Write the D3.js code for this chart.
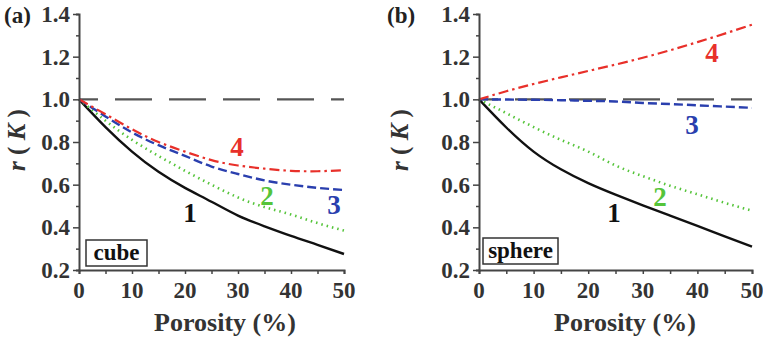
<!DOCTYPE html>
<html>
<head>
<meta charset="utf-8">
<script src="https://cdn.jsdelivr.net/npm/d3@7"></script>
<style>
  body { margin: 0; background: #fff; }
  svg text { font-family: "Liberation Serif", "Times New Roman", serif; font-weight: bold; }
</style>
</head>
<body>
<svg id="chart" width="763" height="340"></svg>
<script>
// porosity (%) sample points shared by every curve
const porosity = [0, 5, 10, 15, 20, 25, 30, 35, 40, 45, 50];

// (a) cube
const cube1 = [1.0, 0.87, 0.755, 0.66, 0.585, 0.52, 0.455, 0.405, 0.36, 0.318, 0.275];
const cube2 = [1.0, 0.90, 0.81, 0.735, 0.665, 0.60, 0.54, 0.495, 0.46, 0.42, 0.385];
const cube3 = [1.0, 0.92, 0.845, 0.785, 0.735, 0.685, 0.65, 0.62, 0.60, 0.585, 0.575];
const cube4 = [1.0, 0.93, 0.86, 0.80, 0.755, 0.715, 0.69, 0.675, 0.665, 0.663, 0.668];

// (b) sphere
const sphere1 = [1.0, 0.868, 0.755, 0.672, 0.607, 0.553, 0.503, 0.455, 0.407, 0.358, 0.31];
const sphere2 = [1.0, 0.935, 0.87, 0.81, 0.755, 0.69, 0.64, 0.595, 0.555, 0.515, 0.478];
const sphere3 = [1.0, 0.999, 0.998, 0.996, 0.993, 0.99, 0.983, 0.978, 0.972, 0.966, 0.96];
const sphere4 = [1.0, 1.038, 1.072, 1.103, 1.133, 1.163, 1.195, 1.23, 1.268, 1.308, 1.35];

const xTicks = [0, 10, 20, 30, 40, 50];
const yTicks = [0.2, 0.4, 0.6, 0.8, 1.0, 1.2, 1.4];
const seriesNames = ["1", "2", "3", "4"];

const styles = [
  { color: "#111111", dash: null, width: 2.4 },
  { color: "#55c43a", dash: "1.5,4", width: 2.6 },
  { color: "#2a3fae", dash: "9,4", width: 2.4 },
  { color: "#e8302a", dash: "10,4,2.5,4", width: 2.2 }
];

const panels = [
  {
    tag: "(a)", shape: "cube", series: [cube1, cube2, cube3, cube4],
    left: 79, right: 344, tagX: 4, tickX: 70, ylabX: 25, titleX: 225,
    box: [86, 240, 61, 26],
    labels: [[190, 222], [267, 205], [334, 214], [237, 156]]
  },
  {
    tag: "(b)", shape: "sphere", series: [sphere1, sphere2, sphere3, sphere4],
    left: 479, right: 752, tagX: 387, tickX: 470, ylabX: 408, titleX: 625,
    box: [483, 238, 75, 26],
    labels: [[614, 222], [660, 206], [692, 134], [712, 62]]
  }
];

const svg = d3.select("#chart");
const plotTop = 14, plotBottom = 270;

panels.forEach(p => {
  const x = d3.scaleLinear().domain([0, 50]).range([p.left, p.right]);
  const y = d3.scaleLinear().domain([0.2, 1.4]).range([plotBottom, plotTop]);
  const g = svg.append("g");

  // reference line at 1.0
  g.append("line")
    .attr("x1", x(0)).attr("x2", x(50))
    .attr("y1", y(1.0)).attr("y2", y(1.0))
    .attr("stroke", "#555").attr("stroke-width", 2.4)
    .attr("stroke-dasharray", "37,17").attr("stroke-dashoffset", 18);

  // curves
  const line = d3.line()
    .x((d, i) => x(porosity[i]))
    .y(d => y(d))
    .curve(d3.curveNatural);

  p.series.forEach((s, i) => {
    g.append("path")
      .attr("d", line(s))
      .attr("fill", "none")
      .attr("stroke", styles[i].color)
      .attr("stroke-width", styles[i].width)
      .attr("stroke-dasharray", styles[i].dash);
  });

  // y axis
  const yAxis = g.append("g")
    .attr("transform", `translate(${x(0)},0)`)
    .call(d3.axisLeft(y).tickValues(d3.range(0.2, 1.41, 0.1)).tickSize(3).tickFormat(""));
  yAxis.selectAll(".tick line").attr("stroke", "#444").attr("stroke-width", 1.5);
  yAxis.selectAll(".tick")
    .filter(d => yTicks.some(t => Math.abs(t - d) < 1e-6))
    .select("line").attr("x2", -6);
  yAxis.select(".domain").attr("stroke", "#444").attr("stroke-width", 2);

  g.selectAll(".ytl")
    .data(yTicks)
    .join("text")
      .attr("class", "ytl")
      .attr("x", p.tickX)
      .attr("y", d => y(d) + 8)
      .attr("text-anchor", "end")
      .style("font-size", "23px")
      .attr("fill", "#333")
      .text(d => d.toFixed(1));

  // x axis
  const xAxis = g.append("g")
    .attr("transform", `translate(0,${plotBottom})`)
    .call(d3.axisBottom(x).tickValues(d3.range(0, 51, 5)).tickSize(4).tickFormat(""));
  xAxis.selectAll(".tick line").attr("stroke", "#444").attr("stroke-width", 1.5);
  xAxis.select(".domain").attr("stroke", "#444").attr("stroke-width", 2);

  g.selectAll(".xtl")
    .data(xTicks)
    .join("text")
      .attr("class", "xtl")
      .attr("x", d => x(d))
      .attr("y", 298)
      .attr("text-anchor", "middle")
      .style("font-size", "23px")
      .attr("fill", "#333")
      .text(d => d);

  g.append("text")
    .attr("x", p.titleX)
    .attr("y", 331)
    .attr("text-anchor", "middle")
    .style("font-size", "26px")
    .attr("fill", "#333")
    .text("Porosity (%)");

  // y label
  const yl = g.append("text")
    .attr("transform", `translate(${p.ylabX},${140}) rotate(-90)`)
    .attr("text-anchor", "middle")
    .style("font-size", "25px")
    .attr("fill", "#333");
  yl.append("tspan").style("font-style", "italic").text("r");
  yl.append("tspan").text(" ( ");
  yl.append("tspan").style("font-style", "italic").text("K");
  yl.append("tspan").text(" )");

  // panel tag
  g.append("text")
    .attr("x", p.tagX).attr("y", 23)
    .style("font-size", "23px")
    .attr("fill", "#222")
    .text(p.tag);

  // shape box
  g.append("rect")
    .attr("x", p.box[0]).attr("y", p.box[1])
    .attr("width", p.box[2]).attr("height", p.box[3])
    .attr("fill", "#fff").attr("stroke", "#333").attr("stroke-width", 1.5);
  g.append("text")
    .attr("x", p.box[0] + p.box[2] / 2).attr("y", p.box[1] + 20)
    .attr("text-anchor", "middle")
    .style("font-size", "23px")
    .attr("fill", "#111")
    .text(p.shape);

  // curve numbers
  g.selectAll(".num")
    .data(seriesNames)
    .join("text")
      .attr("class", "num")
      .attr("x", (d, i) => p.labels[i][0])
      .attr("y", (d, i) => p.labels[i][1])
      .attr("text-anchor", "middle")
      .style("font-size", "27px")
      .attr("fill", (d, i) => styles[i].color)
      .text(d => d);
});
</script>
</body>
</html>
